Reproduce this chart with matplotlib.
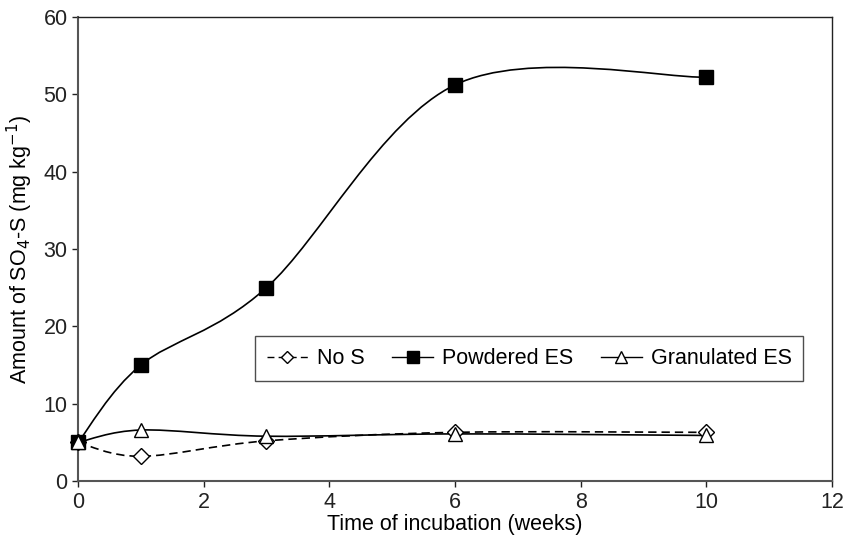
import matplotlib
matplotlib.use("Agg")
import matplotlib.pyplot as plt
from matplotlib.path import Path
from matplotlib.patches import PathPatch
from matplotlib.lines import Line2D

plt.rcParams['font.family'] = ['Liberation Sans', 'DejaVu Sans']

weeks = [0, 1, 3, 6, 10]
no_s = [5.0, 3.2, 5.2, 6.3, 6.3]
powdered = [5.0, 15.0, 25.0, 51.2, 52.2]
granulated = [5.0, 6.6, 5.8, 6.1, 5.9]


def smooth_path(xs, ys):
    # Excel-style smoothed line: cubic Bezier segments with Catmull-Rom control points
    n = len(xs)
    verts = [(xs[0], ys[0])]
    codes = [Path.MOVETO]
    for i in range(n - 1):
        x0, y0 = (xs[i - 1], ys[i - 1]) if i > 0 else (xs[i], ys[i])
        x1, y1 = xs[i], ys[i]
        x2, y2 = xs[i + 1], ys[i + 1]
        x3, y3 = (xs[i + 2], ys[i + 2]) if i + 2 < n else (x2, y2)
        c1 = (x1 + (x2 - x0) / 6, y1 + (y2 - y0) / 6)
        c2 = (x2 - (x3 - x1) / 6, y2 - (y3 - y1) / 6)
        verts += [c1, c2, (x2, y2)]
        codes += [Path.CURVE4] * 3
    return Path(verts, codes)


fig = plt.figure(figsize=(8.48, 5.43), dpi=100)
ax = fig.add_axes([0.092, 0.114, 0.889, 0.855])

series = [
    ("No S", no_s, 'D', 'white', (0, (5, 3)), 8),
    ("Powdered ES", powdered, 's', 'black', '-', 10.5),
    ("Granulated ES", granulated, '^', 'white', '-', 10.5),
]

handles = []
for z, (label, ys, marker, face, ls, ms) in enumerate(series):
    patch = PathPatch(smooth_path(weeks, ys), facecolor='none', edgecolor='black',
                      linewidth=1.2, linestyle=ls, zorder=2 + z)
    ax.add_patch(patch)
    ax.plot(weeks, ys, linestyle='none', marker=marker, markersize=ms,
            markerfacecolor=face, markeredgecolor='black', markeredgewidth=1.0,
            zorder=5 + z, clip_on=False)
    handles.append(Line2D([], [], color='black', linewidth=1.0, linestyle=ls,
                          marker=marker, markersize=ms * 0.8,
                          markerfacecolor=face, markeredgecolor='black',
                          label=label))

ax.set_xlim(0, 12)
ax.set_ylim(0, 60)
ax.set_xticks(range(0, 13, 2))
ax.set_yticks(range(0, 61, 10))
ax.tick_params(direction='out', length=4, width=1, labelsize=15.5, colors='#222222')
for side in ['left', 'bottom']:
    ax.spines[side].set_color('#555555')
    ax.spines[side].set_linewidth(1.5)
for side in ['top', 'right']:
    ax.spines[side].set_color('#222222')
    ax.spines[side].set_linewidth(1.0)

ax.set_xlabel("Time of incubation (weeks)", fontsize=15.5, labelpad=1)
ax.set_ylabel(r"Amount of SO$_4$-S (mg kg$^{-1}$)", fontsize=15.5, labelpad=6)

leg = ax.legend(handles=handles, loc='upper left', bbox_to_anchor=(2.82 / 12, 18.7 / 60),
                ncol=3, fontsize=15.5, frameon=True, fancybox=False,
                handlelength=1.9, handletextpad=0.4, columnspacing=1.3,
                borderpad=0.55, borderaxespad=0)
leg.get_frame().set_edgecolor('#222222')
leg.get_frame().set_linewidth(1.0)

fig.savefig("out.png", dpi=100)
